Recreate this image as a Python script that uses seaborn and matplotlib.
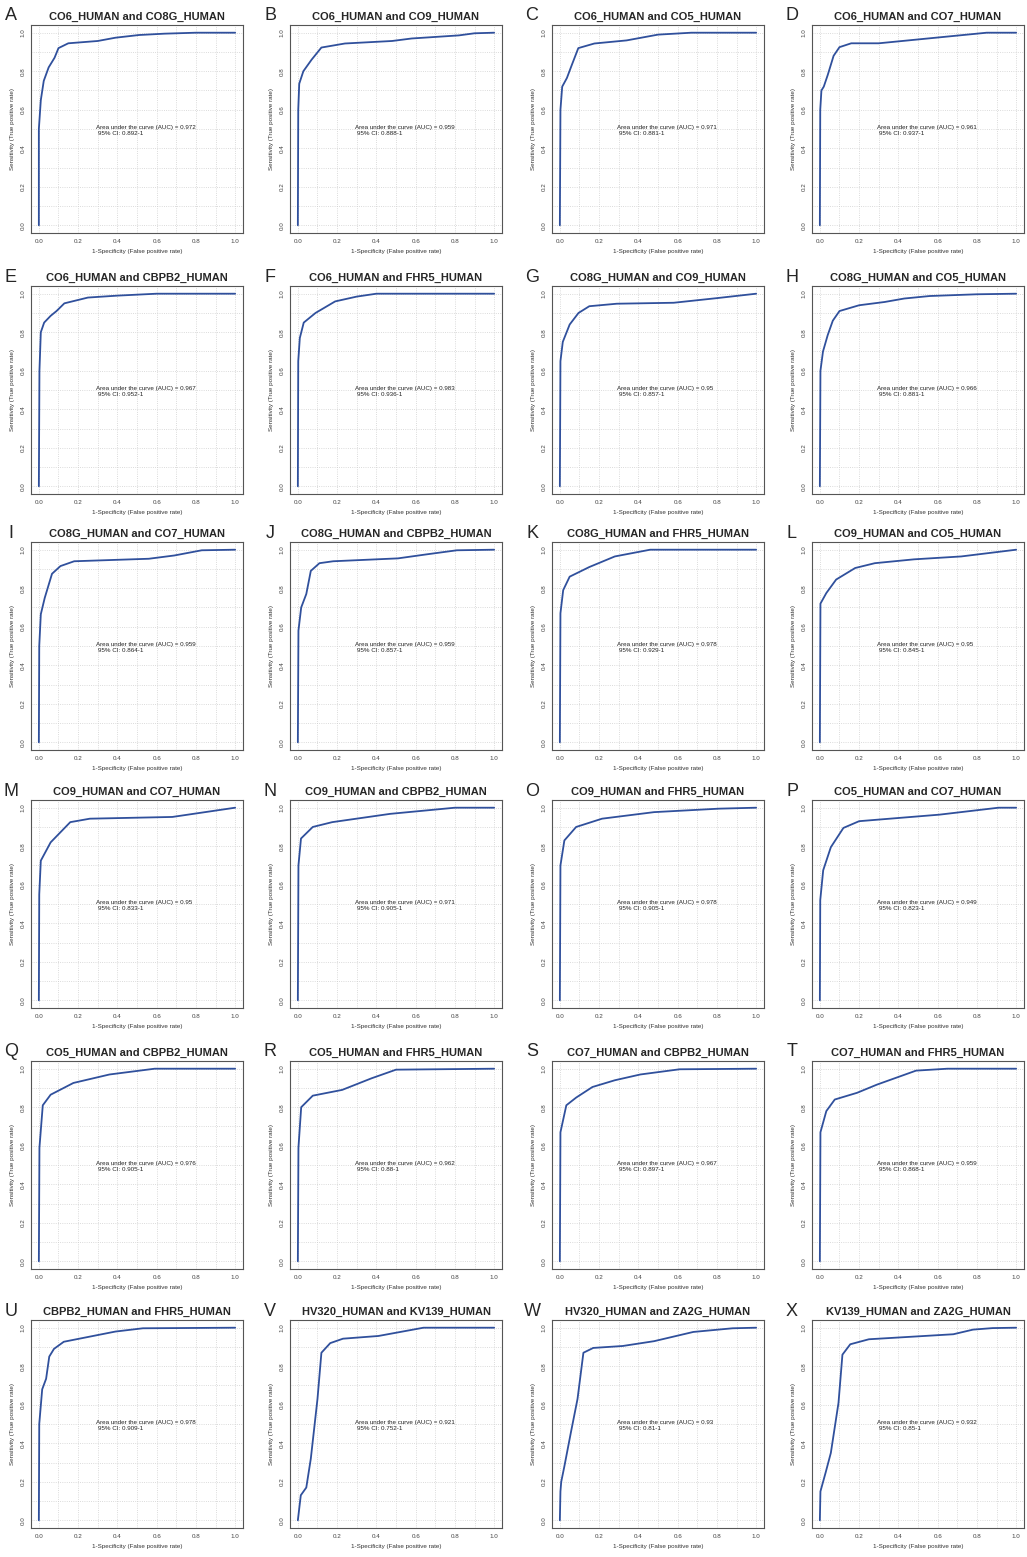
import matplotlib
matplotlib.use("Agg")
from matplotlib import pyplot as plt
from matplotlib.ticker import MultipleLocator
import seaborn as sns

# panel labels, titles and AUC text
letters = list("ABCDEFGHIJKLMNOPQRSTUVWX")
titles = [
    "CO6_HUMAN and CO8G_HUMAN", "CO6_HUMAN and CO9_HUMAN", "CO6_HUMAN and CO5_HUMAN", "CO6_HUMAN and CO7_HUMAN",
    "CO6_HUMAN and CBPB2_HUMAN", "CO6_HUMAN and FHR5_HUMAN", "CO8G_HUMAN and CO9_HUMAN", "CO8G_HUMAN and CO5_HUMAN",
    "CO8G_HUMAN and CO7_HUMAN", "CO8G_HUMAN and CBPB2_HUMAN", "CO8G_HUMAN and FHR5_HUMAN", "CO9_HUMAN and CO5_HUMAN",
    "CO9_HUMAN and CO7_HUMAN", "CO9_HUMAN and CBPB2_HUMAN", "CO9_HUMAN and FHR5_HUMAN", "CO5_HUMAN and CO7_HUMAN",
    "CO5_HUMAN and CBPB2_HUMAN", "CO5_HUMAN and FHR5_HUMAN", "CO7_HUMAN and CBPB2_HUMAN", "CO7_HUMAN and FHR5_HUMAN",
    "CBPB2_HUMAN and FHR5_HUMAN", "HV320_HUMAN and KV139_HUMAN", "HV320_HUMAN and ZA2G_HUMAN", "KV139_HUMAN and ZA2G_HUMAN",
]
auc = ["0.972", "0.959", "0.971", "0.961", "0.967", "0.983", "0.95", "0.966",
       "0.959", "0.959", "0.978", "0.95", "0.95", "0.971", "0.978", "0.949",
       "0.976", "0.962", "0.967", "0.959", "0.978", "0.921", "0.93", "0.932"]
ci = ["0.892-1", "0.888-1", "0.881-1", "0.937-1", "0.952-1", "0.936-1", "0.857-1", "0.881-1",
      "0.864-1", "0.857-1", "0.929-1", "0.845-1", "0.833-1", "0.905-1", "0.905-1", "0.823-1",
      "0.905-1", "0.88-1", "0.897-1", "0.868-1", "0.909-1", "0.752-1", "0.81-1", "0.85-1"]

# ROC curves (1-specificity, sensitivity)
roc_A_x = [0, 0, 0.01, 0.025, 0.05, 0.08, 0.1, 0.15, 0.3, 0.39, 0.51, 0.64, 0.8, 1]
roc_A_y = [0, 0.5, 0.65, 0.75, 0.82, 0.87, 0.92, 0.945, 0.957, 0.974, 0.988, 0.995, 1, 1]
roc_B_x = [0, 0.002, 0.007, 0.028, 0.07, 0.12, 0.24, 0.48, 0.58, 0.82, 0.9, 1]
roc_B_y = [0, 0.6, 0.735, 0.8, 0.86, 0.923, 0.944, 0.957, 0.97, 0.986, 0.997, 1]
roc_C_x = [0, 0.003, 0.012, 0.036, 0.06, 0.094, 0.176, 0.34, 0.5, 0.67, 1]
roc_C_y = [0, 0.6, 0.72, 0.765, 0.83, 0.92, 0.944, 0.96, 0.99, 1, 1]
roc_D_x = [0, 0.002, 0.008, 0.02, 0.04, 0.07, 0.1, 0.16, 0.3, 0.5, 0.7, 0.85, 1]
roc_D_y = [0, 0.6, 0.7, 0.72, 0.78, 0.88, 0.925, 0.945, 0.945, 0.965, 0.985, 1, 1]
roc_E_x = [0, 0.003, 0.01, 0.027, 0.06, 0.09, 0.13, 0.25, 0.4, 0.6, 1]
roc_E_y = [0, 0.6, 0.8, 0.85, 0.885, 0.91, 0.95, 0.98, 0.99, 1, 1]
roc_F_x = [0, 0.002, 0.01, 0.03, 0.09, 0.19, 0.3, 0.4, 1]
roc_F_y = [0, 0.65, 0.77, 0.85, 0.9, 0.96, 0.985, 1, 1]
roc_G_x = [0, 0.003, 0.015, 0.05, 0.095, 0.15, 0.29, 0.58, 0.8, 1]
roc_G_y = [0, 0.65, 0.75, 0.84, 0.9, 0.935, 0.948, 0.953, 0.977, 1]
roc_H_x = [0, 0.003, 0.016, 0.04, 0.066, 0.1, 0.2, 0.33, 0.43, 0.56, 0.8, 1]
roc_H_y = [0, 0.6, 0.7, 0.785, 0.86, 0.91, 0.94, 0.957, 0.975, 0.988, 0.997, 1]
roc_I_x = [0, 0.002, 0.01, 0.03, 0.067, 0.11, 0.18, 0.56, 0.69, 0.83, 1]
roc_I_y = [0, 0.5, 0.665, 0.75, 0.875, 0.915, 0.94, 0.953, 0.97, 0.997, 1]
roc_J_x = [0, 0.003, 0.017, 0.043, 0.066, 0.11, 0.18, 0.51, 0.65, 0.81, 1]
roc_J_y = [0, 0.58, 0.7, 0.77, 0.89, 0.93, 0.94, 0.955, 0.975, 0.997, 1]
roc_K_x = [0, 0.003, 0.017, 0.05, 0.15, 0.28, 0.46, 1]
roc_K_y = [0, 0.67, 0.79, 0.86, 0.91, 0.965, 1, 1]
roc_L_x = [0, 0.003, 0.033, 0.083, 0.18, 0.28, 0.48, 0.72, 1]
roc_L_y = [0, 0.72, 0.775, 0.845, 0.905, 0.93, 0.95, 0.965, 1]
roc_M_x = [0, 0.002, 0.01, 0.06, 0.16, 0.26, 0.68, 1]
roc_M_y = [0, 0.55, 0.725, 0.82, 0.925, 0.943, 0.952, 1]
roc_N_x = [0, 0.003, 0.016, 0.076, 0.175, 0.47, 0.8, 1]
roc_N_y = [0, 0.7, 0.84, 0.9, 0.925, 0.968, 1, 1]
roc_O_x = [0, 0.003, 0.023, 0.083, 0.215, 0.48, 0.81, 1]
roc_O_y = [0, 0.7, 0.83, 0.9, 0.943, 0.977, 0.995, 1]
roc_P_x = [0, 0.002, 0.017, 0.056, 0.12, 0.2, 0.61, 0.91, 1]
roc_P_y = [0, 0.52, 0.675, 0.795, 0.895, 0.93, 0.964, 1, 1]
roc_Q_x = [0, 0.003, 0.02, 0.06, 0.176, 0.36, 0.59, 1]
roc_Q_y = [0, 0.59, 0.81, 0.865, 0.926, 0.97, 1, 1]
roc_R_x = [0, 0.003, 0.017, 0.076, 0.226, 0.375, 0.5, 1]
roc_R_y = [0, 0.59, 0.8, 0.86, 0.89, 0.95, 0.995, 1]
roc_S_x = [0, 0.003, 0.033, 0.083, 0.166, 0.28, 0.41, 0.61, 1]
roc_S_y = [0, 0.67, 0.81, 0.85, 0.905, 0.94, 0.97, 0.997, 1]
roc_T_x = [0, 0.003, 0.033, 0.076, 0.19, 0.29, 0.49, 0.65, 1]
roc_T_y = [0, 0.67, 0.78, 0.84, 0.875, 0.917, 0.99, 1, 1]
roc_U_x = [0, 0.002, 0.017, 0.037, 0.053, 0.077, 0.127, 0.39, 0.53, 1]
roc_U_y = [0, 0.5, 0.68, 0.735, 0.85, 0.89, 0.927, 0.98, 0.997, 1]
roc_V_x = [0, 0.015, 0.043, 0.066, 0.1, 0.12, 0.165, 0.23, 0.41, 0.64, 1]
roc_V_y = [0, 0.13, 0.17, 0.32, 0.63, 0.87, 0.92, 0.943, 0.957, 1, 1]
roc_W_x = [0, 0.003, 0.007, 0.023, 0.056, 0.09, 0.12, 0.17, 0.32, 0.48, 0.68, 0.88, 1]
roc_W_y = [0, 0.15, 0.2, 0.28, 0.455, 0.63, 0.87, 0.895, 0.905, 0.93, 0.978, 0.997, 1]
roc_X_x = [0, 0.003, 0.03, 0.056, 0.095, 0.115, 0.155, 0.25, 0.68, 0.78, 0.88, 1]
roc_X_y = [0, 0.15, 0.25, 0.35, 0.61, 0.86, 0.914, 0.94, 0.966, 0.99, 0.998, 1]

curves = [(roc_A_x, roc_A_y), (roc_B_x, roc_B_y), (roc_C_x, roc_C_y), (roc_D_x, roc_D_y),
          (roc_E_x, roc_E_y), (roc_F_x, roc_F_y), (roc_G_x, roc_G_y), (roc_H_x, roc_H_y),
          (roc_I_x, roc_I_y), (roc_J_x, roc_J_y), (roc_K_x, roc_K_y), (roc_L_x, roc_L_y),
          (roc_M_x, roc_M_y), (roc_N_x, roc_N_y), (roc_O_x, roc_O_y), (roc_P_x, roc_P_y),
          (roc_Q_x, roc_Q_y), (roc_R_x, roc_R_y), (roc_S_x, roc_S_y), (roc_T_x, roc_T_y),
          (roc_U_x, roc_U_y), (roc_V_x, roc_V_y), (roc_W_x, roc_W_y), (roc_X_x, roc_X_y)]

sns.set_style("white")
plt.rcParams['font.family'] = ['Liberation Sans', 'DejaVu Sans']

W, H = 1027, 1557
fig = plt.figure(figsize=(W / 100, H / 100), dpi=100)

col_left = [31, 290, 552, 812]
row_top = [25, 286, 542, 800, 1061, 1320]
ax_w, ax_h = 212, 208
line_col = "#30509c"

for i, (xs, ys) in enumerate(curves):
    r, c = divmod(i, 4)
    ax = fig.add_axes([col_left[c] / W, 1 - (row_top[r] + ax_h) / H, ax_w / W, ax_h / H])
    sns.lineplot(x=xs, y=ys, ax=ax, sort=False, estimator=None, color=line_col, lw=1.3)
    ax.set_xlim(-0.04, 1.04)
    ax.set_ylim(-0.04, 1.04)
    ax.xaxis.set_major_locator(MultipleLocator(0.2))
    ax.yaxis.set_major_locator(MultipleLocator(0.2))
    ax.xaxis.set_minor_locator(MultipleLocator(0.1))
    ax.yaxis.set_minor_locator(MultipleLocator(0.1))
    ax.grid(which="both", color="#cfcfcf", ls=":", lw=0.6)
    ax.tick_params(which="major", labelsize=4.5, length=2, width=0.5, pad=2, colors="#444444")
    ax.tick_params(which="minor", length=0)
    ax.set_xticklabels([f"{v:.1f}" for v in ax.get_xticks()])
    ax.set_yticklabels([f"{v:.1f}" for v in ax.get_yticks()], rotation=90, va="center")
    for s in ax.spines.values():
        s.set_color("#555555")
        s.set_linewidth(0.8)
    ax.set_xlabel("1-Specificity (False positive rate)", fontsize=4.5, labelpad=4, color="#333333")
    ax.set_ylabel("Sensitivity (True positive rate)", fontsize=4.5, labelpad=4, color="#333333")
    ax.set_title(titles[i], fontsize=8, fontweight="bold", pad=4)
    ax.text(0.29, 0.51, f"Area under the curve (AUC) = {auc[i]}", fontsize=4.5, va="center", color="#222222")
    ax.text(0.30, 0.475, f"95% CI: {ci[i]}", fontsize=4.5, va="center", color="#222222")
    fig.text((col_left[c] - 20) / W, 1 - (row_top[r] - 9) / H, letters[i], fontsize=13,
             ha="center", va="center")

fig.savefig("out.png", dpi=100)
